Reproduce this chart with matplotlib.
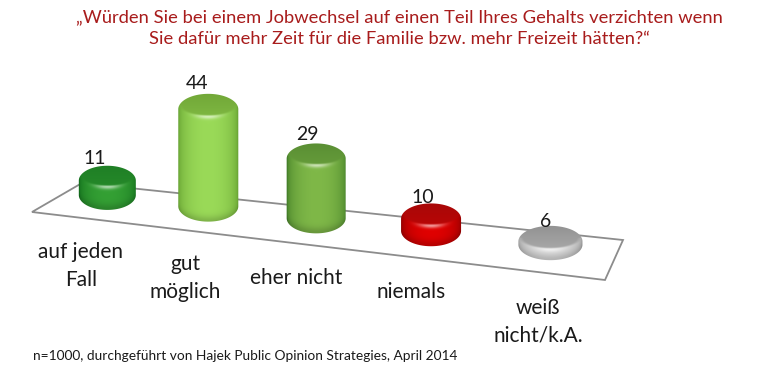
import matplotlib
matplotlib.use("Agg")
import matplotlib.pyplot as plt
import numpy as np
from matplotlib.patches import PathPatch, Polygon
from matplotlib.path import Path

plt.rcParams["font.family"] = ["Lato", "DejaVu Sans"]

title = "„Würden Sie bei einem Jobwechsel auf einen Teil Ihres Gehalts verzichten wenn\nSie dafür mehr Zeit für die Familie bzw. mehr Freizeit hätten?“"
note = "n=1000, durchgeführt von Hajek Public Opinion Strategies, April 2014"

categories = ["auf jeden\nFall", "gut\nmöglich", "eher nicht", "niemals", "weiß\nnicht/k.A."]
values = [11, 44, 29, 10, 6]

# body, edge and top colours of the cylinders
center_colors = ["#34a034", "#9ada58", "#7fb848", "#e00000", "#dcdcdc"]
edge_colors = ["#0f6a1a", "#5f9a2c", "#3f7a26", "#8a0000", "#9a9a9a"]
top_colors = ["#1f7f25", "#72a838", "#5a8f34", "#a80808", "#929292"]

# layout in pixels of the 768x367 picture
floor_corners = np.array([[32, 212], [605, 280], [623, 240], [82, 183]], dtype=float)
label_pos = [(81, 266), (185, 278), (296, 278), (411, 292), (538, 322)]
bar_shift = [-0.02, 0.01, 0.03, 0.035, 0]
bar_rx = [28.5, 30, 29.5, 30, 32]
value_dx = [-13, -11, -9, -8, -5]
value_dy = [-7, -10, -9, -6, -4]
bar_v = 0.6
px_per_value = 2.5
height_offset = -5


def make_homography(corners):
    # unit square (u along the front edge, v towards the back) to picture
    src = [(0, 0), (1, 0), (1, 1), (0, 1)]
    a, b = [], []
    for (u, v), (x, y) in zip(src, corners):
        a.append([u, v, 1, 0, 0, 0, -u * x, -v * x])
        a.append([0, 0, 0, u, v, 1, -u * y, -v * y])
        b += [x, y]
    return np.append(np.linalg.solve(np.array(a), np.array(b)), 1).reshape(3, 3)


H = make_homography(floor_corners)


def floor(u, v):
    x, y, w = H @ np.array([u, v, 1.0])
    return x / w, y / w


def draw_cylinder(ax, cx, base, rx, ry, h, center, edge, top):
    c0 = np.array(matplotlib.colors.to_rgb(center))
    c1 = np.array(matplotlib.colors.to_rgb(edge))
    ct = np.array(matplotlib.colors.to_rgb(top))
    ty = base - h
    x0, x1 = cx - rx - 1, cx + rx + 1
    y0, y1 = ty - ry - 1, base + ry + 1
    xs = np.arange(x0, x1, 0.5)
    ys = np.arange(y0, y1, 0.5)
    X, Y = np.meshgrid(xs, ys)
    t = np.clip((X - cx) / rx, -1, 1)
    arc = np.sqrt(1 - t**2)

    # horizontal shading of the side
    mix = (arc**0.9)[..., None]
    img = c1 + (c0 - c1) * mix

    # shaded bottom rim
    d_bot = base + ry * arc - Y
    rim = np.exp(-((d_bot / 6.0) ** 2))[..., None]
    img = img * (1 - 0.18 * rim)

    # small bright spot below the top face
    d_top = Y - (ty + ry * 0.95 * arc)
    glow = (np.exp(-((d_top / 2.5) ** 2)) * arc**10)[..., None]
    img = img + (1 - img) * 0.6 * glow

    # top face, soft towards the rim, a little lighter at the front
    r = ((X - cx) / (rx * 0.92)) ** 2 + ((Y - ty) / (ry * 0.85)) ** 2
    m = np.clip((1.15 - r) / 0.3, 0, 1)
    m[Y < ty] = 1
    face = ct + (c0 - ct) * (0.3 * np.clip((Y - ty + ry) / (2 * ry), 0, 1))[..., None]
    img = img * (1 - m[..., None]) + face * m[..., None]

    # rounded shoulders: the end caps reach a few pixels into the side
    bevel = min(4.0, h / 3)
    theta = np.linspace(np.pi, 0, 60)
    top_pts = np.c_[cx + rx * np.cos(theta), ty + bevel - (ry + bevel) * np.sin(theta)]
    bot_pts = np.c_[cx + rx * np.cos(theta[::-1]), base - bevel + (ry + bevel) * np.sin(theta[::-1])]
    outline = Path(np.vstack([top_pts, bot_pts, top_pts[:1]]), closed=True)
    patch = PathPatch(outline, transform=ax.transData, fc="none", ec="none")
    ax.add_patch(patch)
    im = ax.imshow(img, extent=(x0, x1, y1, y0), aspect="auto", zorder=3, interpolation="bilinear")
    im.set_clip_path(patch)
    return ty - ry


fig = plt.figure(figsize=(7.68, 3.67), dpi=100)
ax = fig.add_axes([0, 0, 1, 1])

ax.add_patch(Polygon(floor_corners, closed=True, fc="white", ec="#8c8c8c", lw=1.3, zorder=1))

for i, v in enumerate(values):
    u = (i + 0.5 + bar_shift[i]) / len(values)
    cx, base = floor(u, bar_v)
    rx = bar_rx[i]
    ry = rx * 0.38
    h = px_per_value * v + height_offset
    top_edge = draw_cylinder(ax, cx, base, rx, ry, h, center_colors[i], edge_colors[i], top_colors[i])
    ax.text(cx + value_dx[i], top_edge + value_dy[i], str(v), ha="center", va="center", fontsize=14, color="#1a1a1a", zorder=5)

for name, (x, y) in zip(categories, label_pos):
    ax.text(x, y, name, ha="center", va="center", fontsize=15, color="#1a1a1a", linespacing=1.47)

ax.text(399, 28, title, ha="center", va="center", fontsize=13.2, color="#a81c1c", linespacing=1.4)
ax.text(33, 356, note, ha="left", va="center", fontsize=9.9, color="#1a1a1a")

ax.set_xlim(0, 768)
ax.set_ylim(367, 0)
ax.axis("off")

fig.savefig("out.png", dpi=100)
